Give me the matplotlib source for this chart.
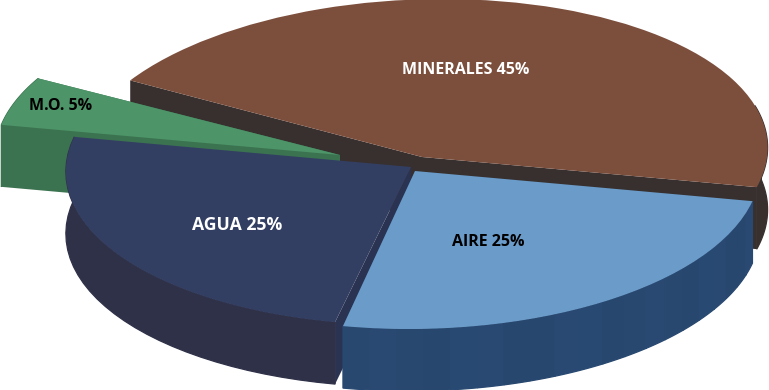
#!/usr/bin/env python3
import numpy as np
import matplotlib

matplotlib.use("Agg")
import matplotlib.pyplot as plt
from matplotlib.patches import Polygon, Wedge
from matplotlib.transforms import Affine2D

labels = ["MINERALES 45%", "AIRE 25%", "AGUA 25%", "M.O. 5%"]
shares = [45, 25, 25, 5]
top_colors = ["#7c4e3c", "#6a9bc9", "#333f62", "#4d9468"]
wall_colors = ["#37302f", "#284870", "#2e3148", "#3b7350"]
cut_colors = ["#37302f", "#284870", "#2a3352", "#3b7350"]
label_colors = ["white", "black", "white", "black"]
label_sizes = [11.5, 11.5, 12.7, 11.5]
apexes = [(422, 157), (415, 171), (411, 167), (340, 155)]
skews = [-0.13, -0.04, -0.065, 0.0]
label_pos = [(466, 70), (488, 242), (237, 225), (61, 106)]

RX, RY = 345, 158
DEPTH = 62
START = -11


def arc(i, a0, a1, n=80):
    t = np.radians(np.linspace(a0, a1, n))
    x0, y0 = apexes[i]
    dy = -RY * np.sin(t)
    return np.column_stack([x0 + RX * np.cos(t) + skews[i] * dy, y0 + dy])


def shade(color, amount):
    rgb = np.array(matplotlib.colors.to_rgb(color))
    return tuple(np.clip(rgb * (1 + amount), 0, 1))


def draw_cut(ax, i, angle, z):
    x0, y0 = apexes[i]
    x, y = arc(i, angle, angle, 1)[0]
    pts = [(x0, y0), (x, y), (x, y + DEPTH), (x0, y0 + DEPTH)]
    ax.add_patch(Polygon(pts, closed=True, fc=cut_colors[i], ec="none", zorder=z))


def draw_outer(ax, i, a0, a1, z, strips=1):
    edges = np.linspace(a0, a1, strips + 1)
    for k in range(strips):
        pts = arc(i, edges[k], edges[k + 1], 30)
        low = pts[::-1] + [0, DEPTH]
        tone = 0.02 * np.sin(k * 1.7) if strips > 1 else 0
        col = shade(wall_colors[i], tone)
        ax.add_patch(Polygon(np.vstack([pts, low]), closed=True, fc=col, ec=col,
                             lw=0.9, zorder=z))


def draw_top(ax, i, a0, a1, z):
    x0, y0 = apexes[i]
    mat = np.array([[RX, -skews[i] * RY, x0], [0, -RY, y0], [0, 0, 1]])
    tr = Affine2D(mat) + ax.transData
    ax.add_patch(Wedge((0, 0), 1, a0, a1, fc=top_colors[i], ec="none",
                       transform=tr, zorder=z))


fig = plt.figure(figsize=(7.69, 3.9), dpi=100)
ax = fig.add_axes([0, 0, 1, 1])
ax.set_xlim(0, 769)
ax.set_ylim(390, 0)
ax.axis("off")

spans = [s * 3.6 for s in shares]
m0, m1 = START, START + spans[0]
air1, air0 = START, START - spans[1]
ag1, ag0 = air0, air0 - spans[2]
mo1, mo0 = ag0, ag0 - spans[3]

# minerales
draw_outer(ax, 0, m0, m0 + 30, 1)
draw_cut(ax, 0, m0, 1)
draw_cut(ax, 0, m1, 1)
draw_top(ax, 0, m0, m1, 2)

# m.o.
draw_cut(ax, 3, mo0, 3)
draw_outer(ax, 3, mo0, mo1, 3)
draw_cut(ax, 3, mo1, 3)
draw_top(ax, 3, mo0, mo1, 4)

# agua
draw_cut(ax, 2, ag1, 5)
draw_outer(ax, 2, ag0, ag1, 5)
draw_top(ax, 2, ag0, ag1, 6)

# aire
draw_cut(ax, 1, air0, 7)
draw_outer(ax, 1, air0, air1, 7, strips=20)
draw_top(ax, 1, air0, air1, 8)

for name, pos, col, size in zip(labels, label_pos, label_colors, label_sizes):
    ax.text(pos[0], pos[1], name, color=col, ha="center", va="center",
            fontsize=size, fontweight="bold", family="Open Sans", zorder=10)

fig.savefig("out.png", dpi=100)
